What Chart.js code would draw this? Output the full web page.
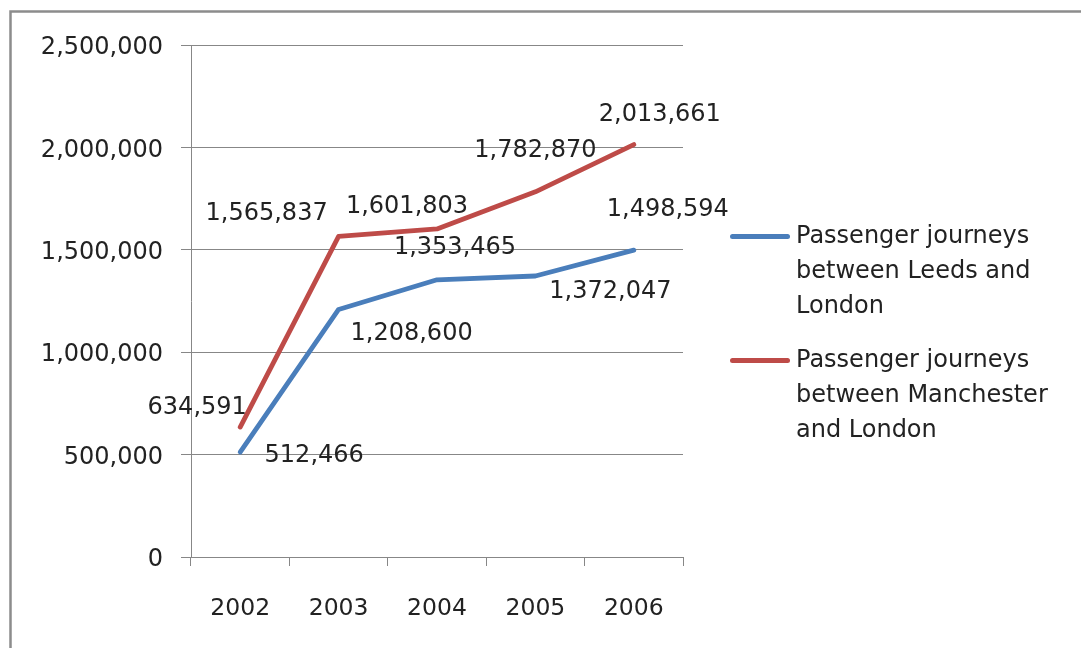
<!DOCTYPE html>
<html>
<head>
<meta charset="utf-8">
<script src="https://cdn.jsdelivr.net/npm/chart.js@4"></script>
<style>
  body { margin: 0; background: #fff; }
  #wrap { position: relative; width: 1081px; height: 648px; }
  #legend { position: absolute; left: 730px; top: 218px; font-family: "DejaVu Sans", sans-serif; font-size: 24px; color: #222; line-height: 35px; }
  .item { display: flex; align-items: flex-start; margin-bottom: 19px; }
  .swatch { width: 60px; height: 5px; border-radius: 3px; margin-top: 16px; margin-right: 6px; }
</style>
</head>
<body>
<div id="wrap">
  <canvas id="line-chart" width="1081" height="648"></canvas>
  <div id="legend"></div>
</div>
<script>
let years = ["2002", "2003", "2004", "2005", "2006"];
let leedsLabel = ["Passenger journeys", "between Leeds and", "London"];
let manchesterLabel = ["Passenger journeys", "between Manchester", "and London"];
let leedsValues = [512466, 1208600, 1353465, 1372047, 1498594];
let manchesterValues = [634591, 1565837, 1601803, 1782870, 2013661];
let yTicks = [0, 500000, 1000000, 1500000, 2000000, 2500000];

let blue = "#4a7ebb";
let red = "#be4b48";

// where each data label sits relative to its point (dx, dy)
let leedsOffsets = [[74, 4], [73, 24], [18, -32], [75, 16], [34, -40]];
let manchesterOffsets = [[-43, -19], [-72, -23], [-30, -22], [0, -41], [26, -30]];

let fmt = v => v.toLocaleString("en-US");

let frame = {
    id: "frame",
    beforeDraw(chart) {
        let ctx = chart.ctx;
        ctx.save();
        ctx.fillStyle = "#fff";
        ctx.fillRect(0, 0, chart.width, chart.height);
        ctx.strokeStyle = "#8c8c8c";
        ctx.lineWidth = 2.5;
        ctx.beginPath();
        ctx.moveTo(10.5, chart.height);
        ctx.lineTo(10.5, 11.5);
        ctx.lineTo(chart.width, 11.5);
        ctx.stroke();
        ctx.restore();
    }
};

let pointLabels = {
    id: "pointLabels",
    afterDatasetsDraw(chart) {
        let ctx = chart.ctx;
        let offsets = [leedsOffsets, manchesterOffsets];
        ctx.save();
        ctx.font = "24px 'DejaVu Sans', sans-serif";
        ctx.fillStyle = "#222";
        ctx.textAlign = "center";
        ctx.textBaseline = "middle";
        chart.data.datasets.forEach((ds, i) => {
            let meta = chart.getDatasetMeta(i);
            meta.data.forEach((pt, j) => {
                ctx.fillText(fmt(ds.data[j]), pt.x + offsets[i][j][0], pt.y + offsets[i][j][1]);
            });
        });
        ctx.restore();
    }
};

let lineCartEl = document.getElementById("line-chart");

let lineConfig = {
    type: "line",
    data: {
        labels: years,
        datasets: [
            {
                label: leedsLabel.join(" "),
                data: leedsValues,
                fill: false,
                borderColor: blue,
                borderWidth: 4.8,
                borderCapStyle: "round",
                borderJoinStyle: "round",
                pointRadius: 0,
            },
            {
                label: manchesterLabel.join(" "),
                data: manchesterValues,
                fill: false,
                borderColor: red,
                borderWidth: 4.8,
                borderCapStyle: "round",
                borderJoinStyle: "round",
                pointRadius: 0,
            },
        ]
    },
    options: {
        responsive: false,
        animation: false,
        layout: { padding: { left: 0, right: 398, top: 45, bottom: 0 } },
        plugins: {
            legend: { display: false },
            tooltip: { enabled: false }
        },
        scales: {
            x: {
                offset: true,
                grid: { offset: true, drawOnChartArea: false, drawTicks: true, tickLength: 9, color: "#878787" },
                border: { color: "#878787" },
                ticks: { color: "#222", font: { family: "DejaVu Sans", size: 23.5 }, padding: 29 },
                afterFit(scale) { scale.height = 91; }
            },
            y: {
                min: 0,
                max: 2500000,
                afterBuildTicks(scale) { scale.ticks = yTicks.map(v => ({ value: v })); },
                grid: { color: "#878787", tickLength: 10 },
                border: { color: "#878787" },
                ticks: { color: "#222", font: { family: "DejaVu Sans", size: 24 }, padding: 18, labelOffset: 3, callback: v => fmt(v) },
                afterFit(scale) { scale.width = 191; }
            }
        }
    },
    plugins: [frame, pointLabels]
};

let lineChart = new Chart(lineCartEl, lineConfig);

// legend with wrapped text, like the original
let legendEl = document.getElementById("legend");
[[blue, leedsLabel], [red, manchesterLabel]].forEach(([color, lines]) => {
    let item = document.createElement("div");
    item.className = "item";
    let sw = document.createElement("div");
    sw.className = "swatch";
    sw.style.background = color;
    let txt = document.createElement("div");
    txt.innerHTML = lines.join("<br>");
    item.appendChild(sw);
    item.appendChild(txt);
    legendEl.appendChild(item);
});
</script>
</body>
</html>
